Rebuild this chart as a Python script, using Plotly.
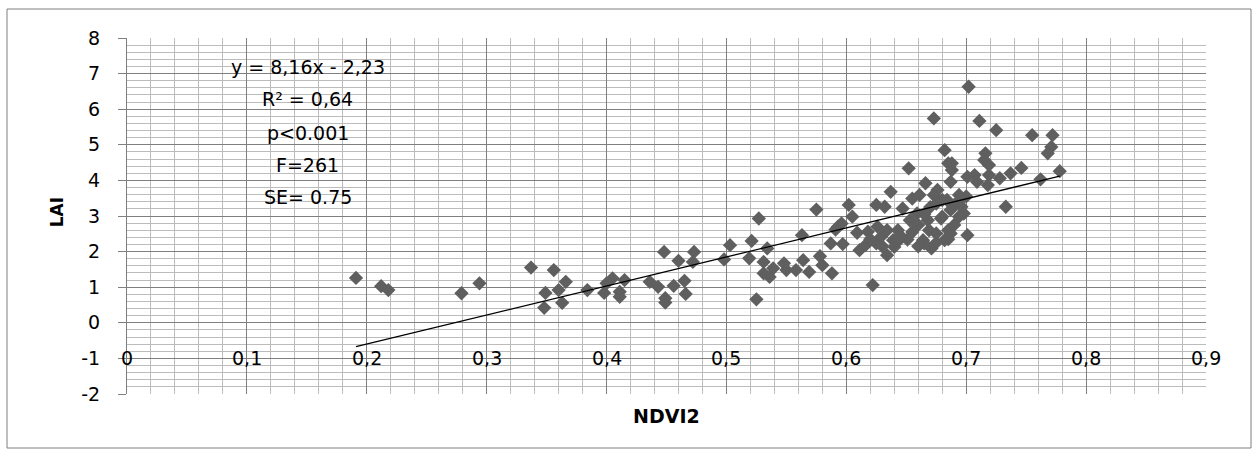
import plotly.graph_objects as go

# ---- data ----
ndvi2 = [
    0.191, 0.212, 0.218, 0.279, 0.294,
    0.337, 0.356, 0.366, 0.349, 0.360, 0.348, 0.363,
    0.384, 0.398, 0.405, 0.400, 0.415, 0.411, 0.411,
    0.436, 0.443, 0.448, 0.449, 0.449, 0.460, 0.456, 0.465, 0.466, 0.473, 0.472,
    0.498, 0.503, 0.521, 0.527, 0.519, 0.534, 0.531, 0.531, 0.536, 0.539, 0.525,
    0.548, 0.550, 0.558, 0.564, 0.569, 0.563, 0.575, 0.578, 0.580, 0.587, 0.588, 0.591,
    0.593, 0.597, 0.596, 0.602, 0.605, 0.609, 0.611, 0.616, 0.618, 0.622, 0.625, 0.632,
    0.626, 0.625, 0.629, 0.634, 0.637, 0.634, 0.639, 0.640, 0.647, 0.643, 0.644, 0.651,
    0.652, 0.655, 0.653, 0.659, 0.661, 0.666, 0.664, 0.665, 0.668, 0.671, 0.669, 0.673,
    0.676, 0.675, 0.679, 0.680, 0.682, 0.682, 0.685, 0.684, 0.685, 0.673,
    0.702, 0.711, 0.725, 0.755, 0.772, 0.771, 0.768, 0.716, 0.715, 0.719, 0.688,
    0.746, 0.737, 0.778, 0.762, 0.728, 0.719, 0.707, 0.701, 0.709, 0.718, 0.688,
    0.687, 0.733, 0.694, 0.690, 0.696, 0.698, 0.694, 0.687, 0.701, 0.687,
    0.660, 0.670, 0.675, 0.680, 0.665, 0.690, 0.695, 0.655, 0.645, 0.660, 0.675,
    0.685, 0.620, 0.630, 0.700,
]
lai = [
    1.26, 1.03, 0.92, 0.83, 1.11,
    1.55, 1.48, 1.15, 0.84, 0.92, 0.42, 0.56,
    0.92, 0.84, 1.25, 1.11, 1.20, 0.87, 0.73,
    1.15, 1.01, 1.99, 0.69, 0.57, 1.74, 1.04, 1.18, 0.81, 1.99, 1.71,
    1.78, 2.18, 2.30, 2.93, 1.81, 2.09, 1.71, 1.39, 1.29, 1.53, 0.66,
    1.67, 1.48, 1.48, 1.76, 1.43, 2.46, 3.18, 1.87, 1.62, 2.23, 1.39, 2.62,
    2.70, 2.21, 2.79, 3.31, 2.98, 2.53, 2.04, 2.18, 2.56, 1.06, 3.31, 3.26,
    2.70, 2.23, 2.42, 2.60, 3.68, 1.90, 2.32, 2.13, 3.21, 2.60, 2.32, 2.34,
    4.34, 3.49, 2.88, 3.07, 3.59, 3.92, 2.32, 2.23, 2.88, 2.09, 2.60, 3.59,
    3.73, 2.51, 2.93, 2.98, 2.32, 4.85, 4.48, 3.45, 2.60, 5.74,
    6.63, 5.67, 5.41, 5.27, 5.27, 4.94, 4.76, 4.76, 4.57, 4.43, 4.48,
    4.35, 4.20, 4.26, 4.03, 4.06, 4.15, 4.15, 4.10, 3.96, 3.87, 4.29,
    3.96, 3.26, 3.59, 3.31, 3.26, 3.07, 2.98, 2.51, 2.46, 3.17,
    2.75, 3.25, 3.35, 3.45, 3.05, 2.75, 3.45, 2.55, 2.45, 2.15, 2.25,
    2.35, 2.35, 2.15, 3.55,
]

slope = 8.16
intercept = -2.23
stats_lines = ["y = 8,16x - 2,23", "R² = 0,64", "p<0.001", "F=261", "SE= 0.75"]

x_ticks = [0, 0.1, 0.2, 0.3, 0.4, 0.5, 0.6, 0.7, 0.8, 0.9]
x_tick_labels = ["0", "0,1", "0,2", "0,3", "0,4", "0,5", "0,6", "0,7", "0,8", "0,9"]
y_ticks = [-2, -1, 0, 1, 2, 3, 4, 5, 6, 7, 8]
y_tick_labels = ["-2", "-1", "0", "1", "2", "3", "4", "5", "6", "7", "8"]
x_title = "NDVI2"
y_title = "LAI"

FONT = "DejaVu Sans"
MAJOR = "#7f7f7f"
MINOR = "#bcbcbc"

fig = go.Figure()

fig.add_trace(go.Scatter(
    x=ndvi2, y=lai, mode="markers",
    marker=dict(symbol="diamond", size=11, color="#5f5f5f", line=dict(width=0)),
    showlegend=False, hoverinfo="skip",
))

x0, x1 = min(ndvi2), max(ndvi2)
fig.add_trace(go.Scatter(
    x=[x0, x1], y=[slope * x0 + intercept, slope * x1 + intercept],
    mode="lines", line=dict(color="black", width=1.3),
    showlegend=False, hoverinfo="skip",
))

fig.update_layout(
    width=1253, height=456,
    margin=dict(l=127, r=47, t=38, b=62),
    paper_bgcolor="white", plot_bgcolor="white",
    font=dict(family=FONT, size=19, color="black"),
    xaxis=dict(
        range=[0, 0.9], tickvals=x_ticks, showticklabels=False,
        showgrid=True, gridcolor=MAJOR, gridwidth=1,
        minor=dict(dtick=0.02, tick0=0, showgrid=True, gridcolor=MINOR, gridwidth=1),
        zeroline=False, showline=False, ticks="",
    ),
    yaxis=dict(
        range=[-2, 8], tickvals=y_ticks, ticktext=y_tick_labels,
        showgrid=True, gridcolor=MAJOR, gridwidth=1,
        minor=dict(dtick=0.2, tick0=0, showgrid=True, gridcolor=MINOR, gridwidth=1),
        zeroline=False, showline=True, linecolor=MAJOR, linewidth=1,
        ticks="outside", ticklen=8, tickcolor=MAJOR, tickwidth=1,
        ticklabelstandoff=14,
        tickfont=dict(family=FONT, size=19),
    ),
)

annotations = []
# x tick labels, set on the y = -1 row as in the reference
for v, t in zip(x_ticks, x_tick_labels):
    annotations.append(dict(x=v, y=-1, xref="x", yref="y", text=t, showarrow=False,
                            xanchor="center", yanchor="middle",
                            font=dict(family=FONT, size=19, color="black")))
# statistics box
stat_y = [7.19, 6.28, 5.34, 4.43, 3.53]
for sy, t in zip(stat_y, stats_lines):
    annotations.append(dict(x=0.1508, y=sy, xref="x", yref="y", text=t, showarrow=False,
                            xanchor="center", yanchor="middle",
                            font=dict(family=FONT, size=19, color="black")))
# axis titles
annotations.append(dict(x=0.5, y=(393.7 - 416) / 356, xref="paper", yref="paper",
                        text="<b>" + x_title + "</b>", showarrow=False,
                        xanchor="center", yanchor="middle",
                        font=dict(family=FONT, size=19, color="black")))
annotations.append(dict(x=(57 - 127) / 1079, y=(393.7 - 212) / 356, xref="paper", yref="paper",
                        text="<b>" + y_title + "</b>", showarrow=False, textangle=-90,
                        xanchor="center", yanchor="middle",
                        font=dict(family=FONT, size=17, color="black")))
fig.update_layout(annotations=annotations)

# outer chart border
fig.add_shape(type="rect", xref="paper", yref="paper",
              x0=(7 - 127) / 1079, x1=(1251 - 127) / 1079,
              y0=(394 - 448) / 356, y1=(394 - 9) / 356,
              line=dict(color=MAJOR, width=1), fillcolor="rgba(0,0,0,0)", layer="below")

fig.write_html("out.html")
